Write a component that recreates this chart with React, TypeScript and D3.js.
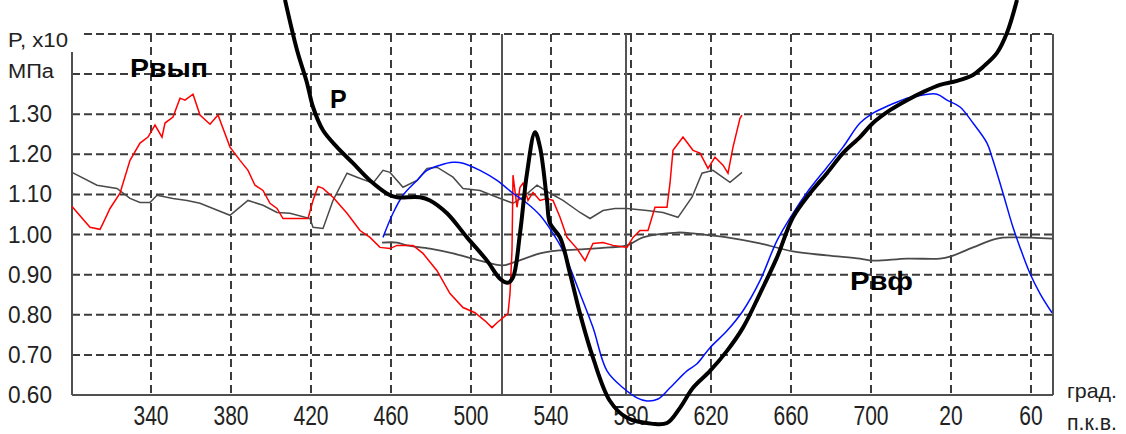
import React from 'react';
import * as d3 from 'd3';

// crank angle, deg (after 720 the labels wrap to 20, 60)
const xTicks = [340, 380, 420, 460, 500, 540, 580, 620, 660, 700, 740, 780];
const yTicks = [0.6, 0.7, 0.8, 0.9, 1.0, 1.1, 1.2, 1.3];
const yGrid = [0.7, 0.8, 0.9, 1.0, 1.1, 1.2, 1.3, 1.4, 1.5];
const markers = [515.5, 577.5];

// Рвып - red
const pVyp: [number, number][] = [
  [300.5, 1.07], [309.5, 1.018], [314.5, 1.013], [316, 1.028], [319.5, 1.065], [324.5, 1.103],
  [329.5, 1.185], [334.5, 1.228], [338.5, 1.243], [342, 1.273], [345.5, 1.243], [347, 1.278],
  [351, 1.293], [354.5, 1.34], [357, 1.335], [361, 1.35], [364.5, 1.298], [369.5, 1.275],
  [373.5, 1.298], [379.5, 1.218], [384.5, 1.185], [388.5, 1.16], [392, 1.123], [396, 1.11],
  [399.5, 1.078], [403, 1.065], [406, 1.04], [414.5, 1.04], [418.5, 1.04], [421, 1.085],
  [423.5, 1.12], [426, 1.115], [431, 1.093], [438, 1.053], [444.5, 1.01], [449.5, 0.993],
  [454.5, 0.968], [459.5, 0.965], [463, 0.973], [471, 0.973], [476, 0.953], [483, 0.91],
  [489.5, 0.853], [496, 0.818], [502, 0.805], [507, 0.785], [510.5, 0.768], [513, 0.78],
  [518.5, 0.803], [519.5, 0.853], [520.5, 0.96], [521, 1.148], [523, 1.068], [524.5, 1.118],
  [526, 1.128], [528.5, 1.085], [531, 1.105], [534.5, 1.085], [538, 1.09], [541, 1.085],
  [544.5, 1.043], [548, 0.993], [553, 0.965], [557, 0.935], [561, 0.978], [566, 0.98],
  [571, 0.973], [578, 0.968], [581, 0.993], [584.5, 1.01], [588.5, 1.01], [592, 1.068],
  [598, 1.068], [599.5, 1.128], [601, 1.21], [606, 1.243], [611, 1.21], [614.5, 1.203],
  [618.5, 1.165], [622, 1.193], [626, 1.173], [628.5, 1.153], [631, 1.218], [634.5, 1.29],
  [635.5, 1.298],
];

// upper grey curve
const pAux: [number, number][] = [
  [300.5, 1.155], [313, 1.123], [323, 1.115], [329.5, 1.09], [334.5, 1.08], [339.5, 1.08],
  [343, 1.098], [351, 1.09], [358, 1.085], [364.5, 1.078], [371, 1.065], [379.5, 1.048],
  [388.5, 1.085], [396, 1.073], [403, 1.055], [409.5, 1.053], [419.5, 1.04], [421, 1.018],
  [426, 1.015], [431, 1.085], [438, 1.153], [443, 1.143], [451, 1.128], [456, 1.16],
  [459.5, 1.155], [466, 1.118], [473, 1.135], [478, 1.165], [483, 1.168], [491, 1.143],
  [496, 1.115], [504.5, 1.11], [513, 1.093], [521, 1.078], [526, 1.093], [533, 1.123],
  [539.5, 1.103], [546, 1.085], [554.5, 1.055], [559.5, 1.04], [566, 1.06], [572, 1.065],
  [578, 1.065], [588, 1.06], [596, 1.055], [603.5, 1.043], [610.5, 1.093], [615.5, 1.153],
  [621, 1.16], [629.5, 1.13], [635.5, 1.155],
];

// Рвф - lower grey curve
const pVf: [number, number][] = [
  [455.5, 0.98], [463, 0.98], [468, 0.973], [479.5, 0.965], [491, 0.953], [504.5, 0.935],
  [515.5, 0.923], [521, 0.93], [534.5, 0.953], [543, 0.96], [554.5, 0.963], [569.5, 0.968],
  [578, 0.973], [586, 0.993], [603, 1.005], [611, 1.003], [619.5, 0.998], [628, 0.993],
  [644.5, 0.978], [661, 0.958], [678, 0.948], [694.5, 0.94], [701, 0.935], [718, 0.94],
  [734.5, 0.94], [739.5, 0.945], [751, 0.968], [763, 0.99], [771, 0.993], [791, 0.99],
];

// blue curve
const pBlue: [number, number][] = [
  [456, 0.993], [461, 1.053], [466, 1.098], [473, 1.135], [478, 1.16], [484.5, 1.173],
  [491, 1.18], [496, 1.178], [504.5, 1.16], [513, 1.135], [521, 1.103], [528, 1.078],
  [534.5, 1.048], [541, 1.003], [546, 0.96], [549.5, 0.918], [554.5, 0.853], [561, 0.768],
  [568, 0.66], [576, 0.618], [583, 0.593], [588, 0.585], [593.5, 0.59], [599.5, 0.618],
  [608, 0.66], [613, 0.678], [619.5, 0.718], [628, 0.76], [636, 0.81], [644.5, 0.885],
  [653, 0.985], [661, 1.053], [668, 1.105], [678, 1.168], [686, 1.218], [694.5, 1.278],
  [701, 1.303], [709.5, 1.323], [718, 1.34], [726, 1.348], [733, 1.35], [738, 1.335],
  [744.5, 1.318], [751, 1.278], [758, 1.228], [761, 1.185], [766, 1.103], [771, 1.018],
  [774.5, 0.968], [779.5, 0.903], [784.5, 0.853], [790.5, 0.805],
];

// Р - thick black
const pMain: [number, number][] = [
  [407, 1.585], [413, 1.46], [418, 1.378], [421, 1.318], [426, 1.26], [433, 1.218],
  [441, 1.178], [449.5, 1.135], [459.5, 1.098], [463, 1.093], [474.5, 1.093], [479.5, 1.085],
  [488, 1.053], [498, 0.993], [508, 0.935], [514.5, 0.89], [518.5, 0.88], [521, 0.893],
  [524.5, 1.003], [528, 1.153], [532, 1.255], [534.5, 1.218], [538, 1.085], [539.5, 1.028],
  [544.5, 0.993], [549.5, 0.903], [554.5, 0.803], [561, 0.693], [569.5, 0.585], [578, 0.543],
  [591, 0.528], [598, 0.53], [604.5, 0.568], [611, 0.618], [619.5, 0.66], [628, 0.71],
  [636, 0.768], [644.5, 0.853], [653, 0.943], [661, 1.043], [669.5, 1.103], [678, 1.153],
  [686, 1.203], [694.5, 1.243], [701, 1.278], [709.5, 1.31], [718, 1.335], [726, 1.355],
  [734.5, 1.373], [743, 1.383], [751, 1.398], [756, 1.418], [763, 1.453], [768, 1.503],
  [773, 1.585],
];

const W = 1126;
const H = 434;
const left = 72;
const right = 1053;
const top = 34;
const bottom = 395;

const tickLabel = (d: number) => String(d > 720 ? d - 720 : d);

export default function App() {
  const x = d3.scaleLinear().domain([300.5, 791]).range([left, right]);
  const y = d3.scaleLinear().domain([0.6, 1.5]).range([bottom, top]);

  const rough = d3.line<[number, number]>().x(d => x(d[0])).y(d => y(d[1]));
  const smooth = d3
    .line<[number, number]>()
    .x(d => x(d[0]))
    .y(d => y(d[1]))
    .curve(d3.curveCatmullRom);

  const font = 'Arial, "Liberation Sans", sans-serif';
  const grid = '#3c3c3c';

  return (
    <svg width={W} height={H} style={{position: 'absolute', left: 0, top: 0}} fontFamily={font}>
      <rect width={W} height={H} fill="#fff" />

      {yGrid.map(v => (
        <line key={'h' + v} x1={v === 1.5 ? 84 : left} x2={right} y1={y(v)} y2={y(v)}
          stroke={grid} strokeWidth={2} strokeDasharray="8,4" />
      ))}
      {xTicks.map(t => (
        <line key={'v' + t} x1={x(t)} x2={x(t)} y1={top} y2={bottom}
          stroke={grid} strokeWidth={2} strokeDasharray="8,5" />
      ))}
      {markers.map(m => (
        <line key={'m' + m} x1={x(m)} x2={x(m)} y1={top} y2={bottom} stroke="#555" strokeWidth={2} />
      ))}

      <line x1={left} x2={left} y1={52} y2={bottom} stroke="#505050" strokeWidth={2} />
      <line x1={right} x2={right} y1={top} y2={bottom} stroke="#505050" strokeWidth={2} />
      <line x1={left} x2={right} y1={bottom} y2={bottom} stroke="#505050" strokeWidth={2} />

      {yTicks.map(v => (
        <text key={'yl' + v} x={8} y={y(v) + 8} fontSize={24} fill="#222"
          textLength={44} lengthAdjust="spacingAndGlyphs">{v.toFixed(2)}</text>
      ))}
      {xTicks.map(t => {
        const s = tickLabel(t);
        const w = s.length * 11.7;
        return (
          <text key={'xl' + t} x={x(t) - w / 2} y={425} fontSize={27} fill="#222"
            textLength={w} lengthAdjust="spacingAndGlyphs">{s}</text>
        );
      })}

      <text x={8} y={47} fontSize={21} fill="#222" textLength={60} lengthAdjust="spacingAndGlyphs">P, x10</text>
      <text x={8} y={78} fontSize={20} fill="#222" textLength={46} lengthAdjust="spacingAndGlyphs">МПа</text>
      <text x={1067} y={398} fontSize={21} fill="#222" textLength={50} lengthAdjust="spacingAndGlyphs">град.</text>
      <text x={1067} y={430} fontSize={22} fill="#222" textLength={50} lengthAdjust="spacingAndGlyphs">п.к.в.</text>

      <path d={rough(pAux) ?? ''} fill="none" stroke="#4a4a4a" strokeWidth={1.5} />
      <path d={smooth(pVf) ?? ''} fill="none" stroke="#4a4a4a" strokeWidth={1.8} />
      <path d={rough(pVyp) ?? ''} fill="none" stroke="#f00" strokeWidth={1.5} />
      <path d={smooth(pBlue) ?? ''} fill="none" stroke="#0010ff" strokeWidth={1.5} />
      <path d={smooth(pMain) ?? ''} fill="none" stroke="#000" strokeWidth={4} strokeLinejoin="round" />

      <text x={130} y={77} fontSize={25} fontWeight="bold" fill="#000" textLength={78} lengthAdjust="spacingAndGlyphs">Рвып</text>
      <text x={330} y={108} fontSize={25} fontWeight="bold" fill="#000">Р</text>
      <text x={850} y={290} fontSize={25} fontWeight="bold" fill="#000" textLength={63} lengthAdjust="spacingAndGlyphs">Рвф</text>
    </svg>
  );
}
